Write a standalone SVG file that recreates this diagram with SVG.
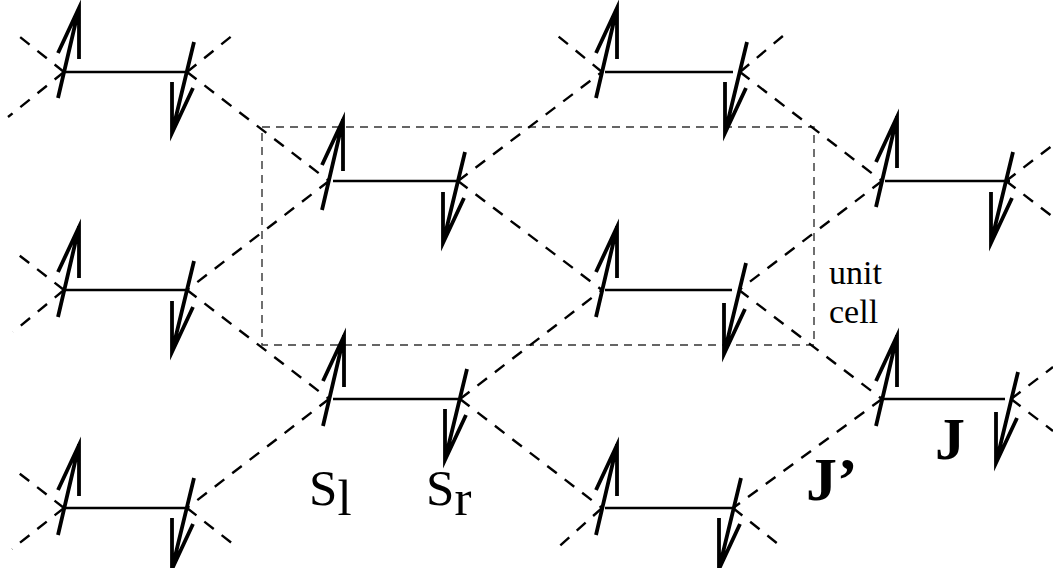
<svg xmlns="http://www.w3.org/2000/svg" width="1053" height="568" viewBox="0 0 1053 568">
<style>
.bond{stroke:#000;stroke-width:2.6;fill:none}
.jp{stroke:#000;stroke-width:2.4;fill:none;stroke-dasharray:12 10}
.spin{stroke:#000;stroke-width:3.8;fill:none;stroke-linejoin:miter;stroke-miterlimit:12}
.cell{stroke:#333;stroke-width:1.4;fill:none;stroke-dasharray:8 6}
.lab{font-family:"Liberation Serif","Times New Roman",serif;fill:#000}
.bold{font-weight:bold}
</style>
<defs>
<path id="up" class="spin" d="M0,0 L21,-90 M0,-45 L21,-90 L21,-39"/>
<path id="dn" class="spin" d="M0,0 L-22,91 M-1,46 L-22,91 L-22,40"/>
</defs>
<rect class="cell" x="262" y="127" width="552" height="218"/>
<g id="connectors">
<path class="jp" d="M187,72 L329,181"/>
<path class="jp" d="M329,181 L187,290"/>
<path class="jp" d="M187,290 L329,399"/>
<path class="jp" d="M329,399 L187,508"/>
<path class="jp" d="M458,181 L602,72"/>
<path class="jp" d="M458,181 L602,290"/>
<path class="jp" d="M460,399 L602,290"/>
<path class="jp" d="M460,399 L602,508"/>
<path class="jp" d="M740,72 L882,181"/>
<path class="jp" d="M882,181 L739,290"/>
<path class="jp" d="M739,290 L882,399"/>
<path class="jp" d="M882,399 L733,508"/>
<path class="jp" d="M64,72 L15,33"/>
<path class="jp" d="M64,72 L8,117"/>
<path class="jp" d="M187,72 L238,31"/>
<path class="jp" d="M64,290 L15,252"/>
<path class="jp" d="M64,290 L13,332"/>
<path class="jp" d="M64,508 L15,470"/>
<path class="jp" d="M64,508 L12,549"/>
<path class="jp" d="M187,508 L238,548"/>
<path class="jp" d="M602,72 L553,32"/>
<path class="jp" d="M740,72 L790,30"/>
<path class="jp" d="M602,508 L553,552"/>
<path class="jp" d="M733,508 L783,548"/>
<path class="jp" d="M1006,181 L1053,145"/>
<path class="jp" d="M1006,181 L1053,217"/>
<path class="jp" d="M1011,399 L1053,367"/>
<path class="jp" d="M1011,399 L1053,431"/>
</g>
<g id="dimerA1"><line class="bond" x1="65" y1="72" x2="188" y2="72"/><use href="#up" x="58" y="98"/><use href="#dn" x="194" y="42"/></g>
<g id="dimerA2"><line class="bond" x1="605" y1="72" x2="733" y2="72"/><use href="#up" x="596" y="98"/><use href="#dn" x="747" y="42"/></g>
<g id="dimerB1"><line class="bond" x1="333" y1="181" x2="457" y2="181"/><use href="#up" x="322" y="210"/><use href="#dn" x="465" y="152"/></g>
<g id="dimerB2"><line class="bond" x1="885" y1="181" x2="1010" y2="181"/><use href="#up" x="876" y="207"/><use href="#dn" x="1013" y="152"/></g>
<g id="dimerC1"><line class="bond" x1="63" y1="290" x2="187" y2="290"/><use href="#up" x="58" y="317"/><use href="#dn" x="194" y="261"/></g>
<g id="dimerC2"><line class="bond" x1="605" y1="290" x2="732" y2="290"/><use href="#up" x="596" y="317"/><use href="#dn" x="746" y="263"/></g>
<g id="dimerD1"><line class="bond" x1="333" y1="399" x2="458" y2="399"/><use href="#up" x="323" y="426"/><use href="#dn" x="467" y="369"/></g>
<g id="dimerD2"><line class="bond" x1="883" y1="399" x2="1005" y2="399"/><use href="#up" x="876" y="426"/><use href="#dn" x="1018" y="372"/></g>
<g id="dimerE1"><line class="bond" x1="63" y1="508" x2="187" y2="508"/><use href="#up" x="58" y="535"/><use href="#dn" x="194" y="478"/></g>
<g id="dimerE2"><line class="bond" x1="605" y1="508" x2="732" y2="508"/><use href="#up" x="596" y="535"/><use href="#dn" x="741" y="478"/></g>
<g id="labels">
<text class="lab" x="829" y="284" font-size="34">unit</text>
<text class="lab" x="829" y="323" font-size="34">cell</text>
<text class="lab" x="309" y="505" font-size="51">S<tspan y="515">l</tspan></text>
<text class="lab" x="426" y="505" font-size="51">S<tspan y="515">r</tspan></text>
<text class="lab bold" x="935" y="459" font-size="60">J</text>
<text class="lab bold" x="806" y="500" font-size="62">J’</text>
</g>
</svg>
